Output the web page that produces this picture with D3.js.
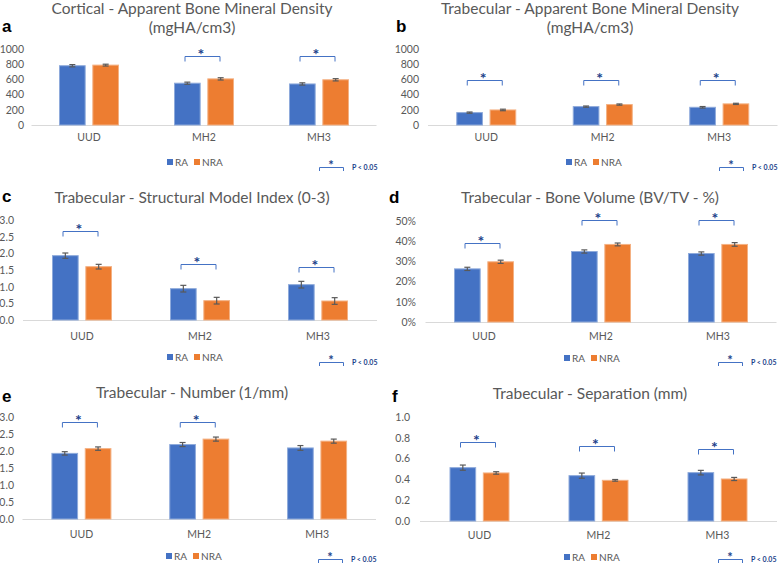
<!DOCTYPE html>
<html>
<head>
<meta charset="utf-8">
<script src="https://cdn.jsdelivr.net/npm/d3@7"></script>
<style>
  body { margin: 0; background: #fff; }
  text { font-family: Lato, "Open Sans", sans-serif; }
</style>
</head>
<body>
<svg id="chart" width="779" height="566"></svg>
<script>
// categories and series
const categories = ["UUD", "MH2", "MH3"];
const seriesNames = ["RA", "NRA"];

// a - cortical apparent BMD (mgHA/cm3)
const cortBmdRA = [780, 550, 540];
const cortBmdNRA = [788, 607, 595];
const cortBmdErrRA = [15, 14, 15];
const cortBmdErrNRA = [12, 15, 15];
const cortBmdSigLevel = [null, 910, 910];
const cortBmdTicks = [0, 200, 400, 600, 800, 1000];

// b - trabecular apparent BMD (mgHA/cm3)
const trabBmdRA = [163, 242, 233];
const trabBmdNRA = [198, 269, 278];
const trabBmdErrRA = [8, 8, 10];
const trabBmdErrNRA = [10, 8, 8];
const trabBmdSigLevel = [590, 590, 590];
const trabBmdTicks = [0, 200, 400, 600, 800, 1000];

// c - structural model index
const smiRA = [1.93, 0.94, 1.06];
const smiNRA = [1.60, 0.58, 0.57];
const smiErrRA = [0.08, 0.10, 0.10];
const smiErrNRA = [0.07, 0.10, 0.10];
const smiSigLevel = [2.67, 1.68, 1.59];
const smiTicks = [0, 0.5, 1.0, 1.5, 2.0, 2.5, 3.0];

// d - bone volume (BV/TV %)
const bvtvRA = [26.3, 34.9, 33.9];
const bvtvNRA = [29.8, 38.4, 38.4];
const bvtvErrRA = [0.8, 0.8, 0.8];
const bvtvErrNRA = [0.8, 0.7, 0.9];
const bvtvSigLevel = [39.1, 50.4, 50.4];
const bvtvTicks = [0, 10, 20, 30, 40, 50];

// e - trabecular number (1/mm)
const tbNRA_RA = [1.93, 2.19, 2.09];
const tbNNRA = [2.07, 2.35, 2.29];
const tbNErrRA = [0.05, 0.06, 0.07];
const tbNErrNRA = [0.05, 0.06, 0.06];
const tbNSigLevel = [2.85, 2.85, null];
const tbNTicks = [0, 0.5, 1.0, 1.5, 2.0, 2.5, 3.0];

// f - trabecular separation (mm)
const tbSpRA = [0.513, 0.436, 0.465];
const tbSpNRA = [0.462, 0.391, 0.404];
const tbSpErrRA = [0.025, 0.025, 0.022];
const tbSpErrNRA = [0.012, 0.008, 0.015];
const tbSpSigLevel = [0.76, 0.72, 0.69];
const tbSpTicks = [0, 0.2, 0.4, 0.6, 0.8, 1.0];

const colors = { RA: "#4472c4", NRA: "#ed7d31" };
const edgeColors = { RA: "#8eaadb", NRA: "#f4b183" };
const textGray = "#595959";
const sigBlue = "#4472c4";
const starBlue = "#203f8a";

const svg = d3.select("#chart");

/**
 * Dibuja un panel de barras agrupadas con barras de error.
 */
function drawPanel(p) {
    const g = svg.append("g");

    const x = d3.scaleBand().domain(categories).range([p.x0, p.x1]);
    const xs = d3.scaleBand().domain(seriesNames).range([-30, 30]).paddingInner(0.2);
    const y = d3.scaleLinear().domain([0, p.yMax]).range([p.yBase, p.yTop]);

    // panel letter
    g.append("text")
        .attr("x", p.letterX).attr("y", p.letterY)
        .attr("font-weight", "bold").attr("font-size", 17)
        .attr("fill", "#000")
        .style("font-family", "Liberation Sans, Arial, sans-serif")
        .text(p.letter);

    // title
    p.title.forEach((line, i) => {
        g.append("text")
            .attr("x", p.titleX).attr("y", p.titleY + i * 19)
            .attr("text-anchor", "middle")
            .attr("font-size", 15.5).attr("fill", textGray)
            .text(line);
    });

    // y axis labels
    const yAxis = d3.axisLeft(y).tickValues(p.ticks).tickSize(0).tickPadding(0)
        .tickFormat(p.format);
    const ya = g.append("g").attr("transform", `translate(${p.tickX},0)`).call(yAxis);
    ya.select(".domain").remove();
    ya.selectAll("text").attr("font-size", 10.5).attr("fill", textGray)
        .style("font-family", "Lato, sans-serif");

    // baseline
    g.append("line")
        .attr("x1", p.x0).attr("x2", p.x1)
        .attr("y1", p.yBase + 0.5).attr("y2", p.yBase + 0.5)
        .attr("stroke", "#d9d9d9").attr("stroke-width", 1);

    // x axis labels
    const xAxis = d3.axisBottom(x).tickSize(0).tickPadding(0);
    const xa = g.append("g").attr("transform", `translate(0,${p.catY})`).call(xAxis);
    xa.select(".domain").remove();
    xa.selectAll("text").attr("font-size", 10.5).attr("fill", textGray)
        .attr("dy", 0).style("font-family", "Lato, sans-serif");

    // bars
    seriesNames.forEach((s, si) => {
        const vals = p.values[si];
        const errs = p.errors[si];
        const cx = c => x(c) + x.bandwidth() / 2 + xs(s);
        g.selectAll(null).data(categories).enter().append("rect")
            .attr("x", c => cx(c) + 0.5)
            .attr("y", (c, i) => y(vals[i]))
            .attr("width", xs.bandwidth() - 1)
            .attr("height", (c, i) => p.yBase - y(vals[i]))
            .attr("fill", colors[s])
            .attr("stroke", edgeColors[s]).attr("stroke-width", 1);

        // error bars
        categories.forEach((c, i) => {
            const mx = cx(c) + xs.bandwidth() / 2;
            const top = y(vals[i] + errs[i]);
            const bot = y(vals[i] - errs[i]);
            g.append("line").attr("x1", mx).attr("x2", mx).attr("y1", top).attr("y2", bot)
                .attr("stroke", "#595959").attr("stroke-width", 1.2);
            [top, bot].forEach(yy => {
                g.append("line").attr("x1", mx - 3).attr("x2", mx + 3).attr("y1", yy).attr("y2", yy)
                    .attr("stroke", "#595959").attr("stroke-width", 1.2);
            });
        });
    });

    // significance brackets
    p.sig.forEach((lvl, i) => {
        if (lvl === null) return;
        const c = x(categories[i]) + x.bandwidth() / 2;
        const yy = Math.round(y(lvl)) + 0.5;
        g.append("path")
            .attr("d", `M${c - 19},${yy + 5}V${yy}H${c + 16}V${yy + 5}`)
            .attr("fill", "none").attr("stroke", sigBlue).attr("stroke-width", 1);
        g.append("text")
            .attr("x", c - 3).attr("y", yy + 3)
            .attr("text-anchor", "middle")
            .attr("font-size", 16).attr("font-weight", "bold").attr("fill", starBlue)
            .text("*");
    });

    // legend
    const lg = g.append("g").attr("transform", `translate(${p.legendX},${p.legendY})`);
    lg.append("rect").attr("x", 0).attr("y", -3).attr("width", 6).attr("height", 6).attr("fill", colors.RA);
    lg.append("text").attr("x", 8).attr("y", 3.5).attr("font-size", 10).attr("fill", textGray).text("RA");
    lg.append("rect").attr("x", 27).attr("y", -3).attr("width", 6).attr("height", 6).attr("fill", colors.NRA);
    lg.append("text").attr("x", 35).attr("y", 3.5).attr("font-size", 10).attr("fill", textGray).text("NRA");

    // P < 0.05 key
    const kg = g.append("g").attr("transform", `translate(${p.keyX},${p.keyY})`);
    kg.append("path").attr("d", "M0.5,4V0.5H24.5V4")
        .attr("fill", "none").attr("stroke", sigBlue).attr("stroke-width", 1);
    kg.append("text").attr("x", 12).attr("y", 3).attr("text-anchor", "middle")
        .attr("font-size", 13).attr("font-weight", "bold").attr("fill", starBlue).text("*");
    kg.append("text").attr("x", 33).attr("y", 3).attr("font-size", 7)
        .attr("font-weight", "bold").attr("fill", starBlue).text("P < 0.05");
}

const fmt1 = d3.format(".1f");
const fmtInt = d3.format("d");
const fmtPct = d => d + "%";

const panels = [
    { letter: "a", letterX: 2, letterY: 32,
      title: ["Cortical - Apparent Bone Mineral Density", "(mgHA/cm3)"], titleX: 192, titleY: 14,
      x0: 31.5, x1: 376.5, yBase: 125, yTop: 49, yMax: 1000, ticks: cortBmdTicks, format: fmtInt, tickX: 24,
      catY: 141, values: [cortBmdRA, cortBmdNRA], errors: [cortBmdErrRA, cortBmdErrNRA], sig: cortBmdSigLevel,
      legendX: 167, legendY: 162, keyX: 319, keyY: 167 },
    { letter: "b", letterX: 396, letterY: 32,
      title: ["Trabecular - Apparent Bone Mineral Density", "(mgHA/cm3)"], titleX: 590, titleY: 14,
      x0: 428, x1: 777.5, yBase: 125, yTop: 49, yMax: 1000, ticks: trabBmdTicks, format: fmtInt, tickX: 419,
      catY: 141, values: [trabBmdRA, trabBmdNRA], errors: [trabBmdErrRA, trabBmdErrNRA], sig: trabBmdSigLevel,
      legendX: 566, legendY: 162, keyX: 719, keyY: 167 },
    { letter: "c", letterX: 2, letterY: 202,
      title: ["Trabecular - Structural Model Index (0-3)"], titleX: 192, titleY: 203,
      x0: 23, x1: 377, yBase: 320, yTop: 220, yMax: 3, ticks: smiTicks, format: fmt1, tickX: 14,
      catY: 340, values: [smiRA, smiNRA], errors: [smiErrRA, smiErrNRA], sig: smiSigLevel,
      legendX: 167, legendY: 357, keyX: 319, keyY: 362 },
    { letter: "d", letterX: 389, letterY: 203,
      title: ["Trabecular - Bone Volume (BV/TV - %)"], titleX: 590, titleY: 203,
      x0: 425.5, x1: 776.5, yBase: 322, yTop: 221, yMax: 50, ticks: bvtvTicks, format: fmtPct, tickX: 416,
      catY: 340, values: [bvtvRA, bvtvNRA], errors: [bvtvErrRA, bvtvErrNRA], sig: bvtvSigLevel,
      legendX: 564, legendY: 358, keyX: 718, keyY: 362 },
    { letter: "e", letterX: 2, letterY: 402,
      title: ["Trabecular - Number (1/mm)"], titleX: 192, titleY: 398,
      x0: 22.5, x1: 376, yBase: 519, yTop: 417, yMax: 3, ticks: tbNTicks, format: fmt1, tickX: 14,
      catY: 538, values: [tbNRA_RA, tbNNRA], errors: [tbNErrRA, tbNErrNRA], sig: tbNSigLevel,
      legendX: 166, legendY: 556, keyX: 318, keyY: 559 },
    { letter: "f", letterX: 392, letterY: 402,
      title: ["Trabecular - Separation (mm)"], titleX: 590, titleY: 399,
      x0: 420, x1: 777, yBase: 521, yTop: 417, yMax: 1, ticks: tbSpTicks, format: fmt1, tickX: 410,
      catY: 539, values: [tbSpRA, tbSpNRA], errors: [tbSpErrRA, tbSpErrNRA], sig: tbSpSigLevel,
      legendX: 564, legendY: 557, keyX: 718, keyY: 559 }
];

panels.forEach(drawPanel);
</script>
</body>
</html>
